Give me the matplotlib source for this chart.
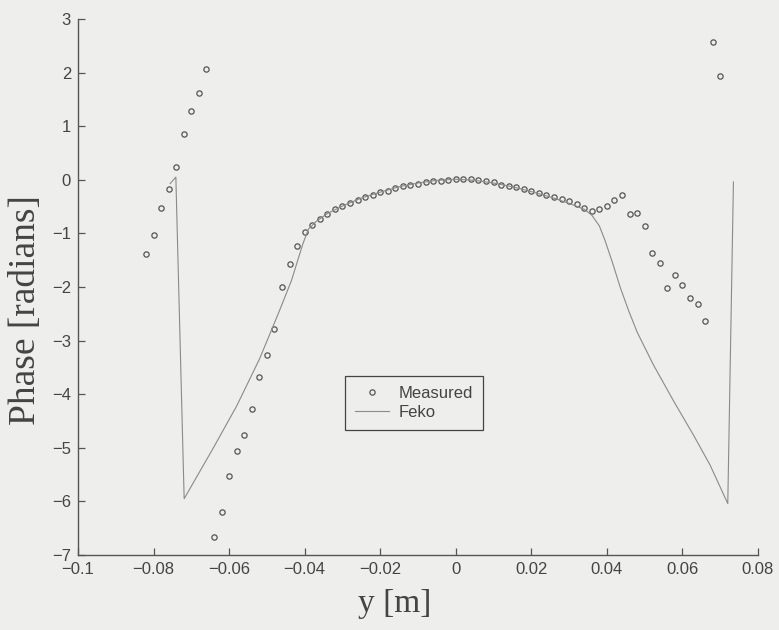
import numpy as np
import matplotlib
matplotlib.use("Agg")
import matplotlib.pyplot as plt

# Measured phase (radians) vs y (m)
meas_y = [-0.082, -0.080, -0.078, -0.076, -0.074, -0.072, -0.070, -0.068, -0.066,
          -0.064, -0.062, -0.060, -0.058, -0.056, -0.054, -0.052, -0.050, -0.048,
          -0.046, -0.044, -0.042, -0.040, -0.038, -0.036, -0.034, -0.032, -0.030,
          -0.028, -0.026, -0.024, -0.022, -0.020, -0.018, -0.016, -0.014, -0.012,
          -0.010, -0.008, -0.006, -0.004, -0.002, 0.000, 0.002, 0.004, 0.006,
          0.008, 0.010, 0.012, 0.014, 0.016, 0.018, 0.020, 0.022, 0.024, 0.026,
          0.028, 0.030, 0.032, 0.034, 0.036, 0.038, 0.040, 0.042, 0.044, 0.046,
          0.048, 0.050, 0.052, 0.054, 0.056, 0.058, 0.060, 0.062, 0.064, 0.066,
          0.068, 0.070]
meas_phase = [-1.38, -1.03, -0.52, -0.18, 0.23, 0.86, 1.29, 1.62, 2.06,
              -6.67, -6.19, -5.53, -5.06, -4.76, -4.28, -3.68, -3.27, -2.78,
              -2.00, -1.57, -1.23, -0.98, -0.84, -0.74, -0.64, -0.54, -0.48,
              -0.43, -0.38, -0.32, -0.28, -0.23, -0.21, -0.16, -0.12, -0.09,
              -0.07, -0.04, -0.03, -0.02, 0.00, 0.02, 0.02, 0.01, 0.00,
              -0.03, -0.05, -0.09, -0.11, -0.14, -0.18, -0.21, -0.24, -0.29, -0.33,
              -0.36, -0.40, -0.45, -0.52, -0.58, -0.55, -0.48, -0.38, -0.28, -0.64,
              -0.62, -0.86, -1.36, -1.56, -2.01, -1.78, -1.97, -2.21, -2.31, -2.63,
              2.57, 1.93]

# Feko simulated phase
feko_y = [-0.0756, -0.0741, -0.0719, -0.0640, -0.0580, -0.0520, -0.0470, -0.0435,
          -0.0405, -0.0390, -0.0370, -0.0340, -0.0300, -0.0250, -0.0200, -0.0150,
          -0.0100, -0.0050, 0.0000, 0.0050, 0.0100, 0.0150, 0.0200, 0.0250,
          0.0300, 0.0340, 0.0360, 0.0380, 0.0395, 0.0415, 0.0435, 0.0458, 0.0480,
          0.0523, 0.0576, 0.0629, 0.0673, 0.0720, 0.0735]
feko_phase = [-0.07, 0.05, -5.95, -4.98, -4.22, -3.35, -2.50, -1.88,
              -1.20, -0.92, -0.78, -0.63, -0.49, -0.34, -0.23, -0.13,
              -0.06, -0.01, 0.01, -0.01, -0.06, -0.13, -0.22, -0.32,
              -0.44, -0.55, -0.66, -0.86, -1.13, -1.55, -2.00, -2.45, -2.84,
              -3.45, -4.12, -4.76, -5.32, -6.04, -0.04]

x_ticks = [-0.1, -0.08, -0.06, -0.04, -0.02, 0, 0.02, 0.04, 0.06, 0.08]
x_tick_labels = ["\u22120.1", "\u22120.08", "\u22120.06", "\u22120.04", "\u22120.02",
                 "0", "0.02", "0.04", "0.06", "0.08"]
y_ticks = [-7, -6, -5, -4, -3, -2, -1, 0, 1, 2, 3]
y_tick_labels = ["\u22127", "\u22126", "\u22125", "\u22124", "\u22123", "\u22122",
                 "\u22121", "0", "1", "2", "3"]

bg = "#eeeeec"
fig = plt.figure(figsize=(7.79, 6.30), dpi=100, facecolor=bg)
ax = fig.add_axes([78 / 779, (630 - 555) / 630, 680 / 779, 536 / 630], facecolor=bg)

ax.plot(meas_y, meas_phase, linestyle="none", marker="o", markersize=3.8,
        markerfacecolor="none", markeredgecolor="#555555", markeredgewidth=0.9,
        label="Measured")
ax.plot(feko_y, feko_phase, color="#8a8a8a", linewidth=0.8, label="Feko")

ax.set_xlim(-0.1, 0.08)
ax.set_ylim(-7, 3)
ax.set_xticks(x_ticks)
ax.set_xticklabels(x_tick_labels)
ax.set_yticks(y_ticks)
ax.set_yticklabels(y_tick_labels)

for s in ("top", "right"):
    ax.spines[s].set_visible(False)
for s in ("left", "bottom"):
    ax.spines[s].set_color("#555555")
    ax.spines[s].set_linewidth(1.0)

ax.tick_params(direction="in", length=5, width=0.9, color="#555555",
               labelsize=12, labelcolor="#444444", pad=5)
for lab in ax.get_xticklabels() + ax.get_yticklabels():
    lab.set_fontfamily("Liberation Sans")

ax.set_xlabel("y [m]", fontfamily="Liberation Serif", fontsize=24, color="#444444")
ax.set_ylabel("Phase [radians]", fontfamily="Liberation Serif", fontsize=27,
              color="#444444")
ax.xaxis.set_label_coords(0.466, -0.062)
ax.yaxis.set_label_coords(-0.052, 0.457)

leg = ax.legend(loc="upper left", bbox_to_anchor=(0.393, 0.334), frameon=True,
                fancybox=False, edgecolor="#444444", facecolor=bg, framealpha=1,
                prop={"family": "Liberation Sans", "size": 12},
                handlelength=2.0, borderpad=0.6, labelspacing=0.25,
                handletextpad=0.6, borderaxespad=0)
leg.get_frame().set_linewidth(0.9)
for t in leg.get_texts():
    t.set_color("#444444")

fig.savefig("out.png", dpi=100, facecolor=bg)
